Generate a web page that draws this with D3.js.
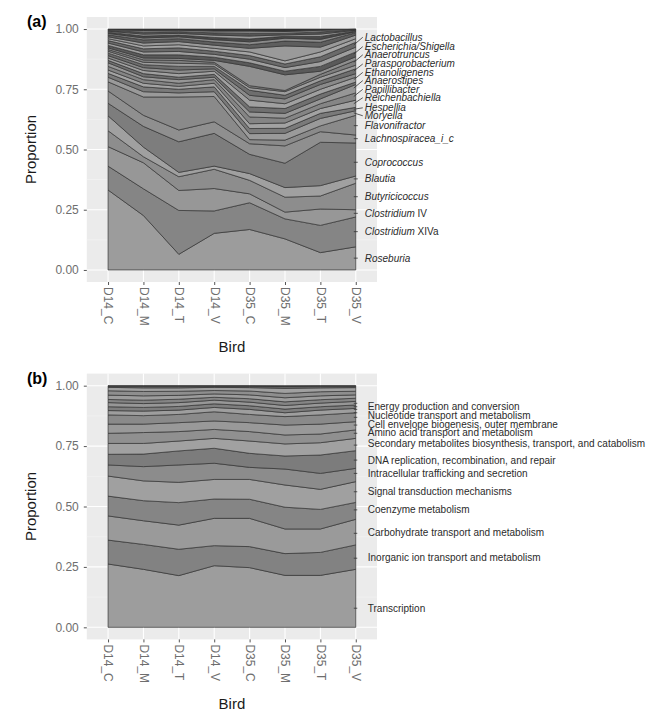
<!DOCTYPE html>
<html>
<head>
<meta charset="utf-8">
<script src="https://cdn.jsdelivr.net/npm/d3@7"></script>
<style>
  body { margin: 0; background: #fff; }
  text { font-family: "Liberation Sans", Arial, Helvetica, sans-serif; }
</style>
</head>
<body>
<script>
// ---- data ----
const birds = ['D14_C', 'D14_M', 'D14_T', 'D14_V', 'D35_C', 'D35_M', 'D35_T', 'D35_V']

// panel (a): genus proportions, bottom layer first
const generaA = ['Roseburia', 'Clostridium XIVa', 'Clostridium IV', 'Butyricicoccus', 'Blautia',
  'Coprococcus', 'Lachnospiracea_i_c', 'Flavonifractor', 'Moryella', 'Hespellia', 'Reichenbachiella',
  'Papillibacter', 'Anaerostipes', 'g14', 'Ethanoligenens', 'g16', 'Parasporobacterium', 'g18',
  'Anaerotruncus', 'g20', 'Escherichia/Shigella', 'g22', 'Lactobacillus', 'g24', 'g25', 'g26',
  'g27', 'g28', 'g29', 'g30', 'g31', 'g32']
const shareA = [
  [0.332, 0.226, 0.065, 0.152, 0.168, 0.129, 0.072, 0.096],
  [0.099, 0.111, 0.182, 0.093, 0.111, 0.083, 0.113, 0.124],
  [0.081, 0.108, 0.083, 0.093, 0.037, 0.028, 0.068, 0.030],
  [0.066, 0.025, 0.057, 0.080, 0.056, 0.062, 0.054, 0.110],
  [0.062, 0.040, 0.018, 0.013, 0.028, 0.040, 0.043, 0.030],
  [0.052, 0.086, 0.127, 0.136, 0.080, 0.101, 0.180, 0.137],
  [0.051, 0.046, 0.049, 0.048, 0.044, 0.072, 0.044, 0.033],
  [0.038, 0.076, 0.137, 0.105, 0.017, 0.024, 0.024, 0.082],
  [0.019, 0.022, 0.017, 0.020, 0.025, 0.028, 0.031, 0.019],
  [0.016, 0.020, 0.015, 0.020, 0.021, 0.021, 0.021, 0.014],
  [0.014, 0.015, 0.012, 0.015, 0.020, 0.022, 0.020, 0.030],
  [0.015, 0.015, 0.013, 0.015, 0.028, 0.020, 0.020, 0.030],
  [0.015, 0.012, 0.015, 0.010, 0.021, 0.020, 0.020, 0.035],
  [0.010, 0.013, 0.010, 0.012, 0.021, 0.020, 0.020, 0.010],
  [0.010, 0.013, 0.015, 0.013, 0.028, 0.020, 0.020, 0.020],
  [0.010, 0.012, 0.015, 0.010, 0.020, 0.020, 0.020, 0.015],
  [0.010, 0.012, 0.015, 0.010, 0.021, 0.015, 0.015, 0.020],
  [0.008, 0.010, 0.013, 0.010, 0.011, 0.015, 0.015, 0.015],
  [0.007, 0.010, 0.012, 0.007, 0.008, 0.005, 0.012, 0.020],
  [0.007, 0.008, 0.008, 0.008, 0.080, 0.065, 0.013, 0.015],
  [0.010, 0.013, 0.015, 0.013, 0.015, 0.015, 0.020, 0.020],
  [0.010, 0.012, 0.014, 0.012, 0.015, 0.015, 0.020, 0.020],
  [0.010, 0.013, 0.015, 0.013, 0.015, 0.015, 0.020, 0.020],
  [0.008, 0.012, 0.013, 0.012, 0.015, 0.013, 0.020, 0.015],
  [0.008, 0.012, 0.013, 0.013, 0.015, 0.062, 0.020, 0.015],
  [0.008, 0.013, 0.012, 0.013, 0.015, 0.020, 0.020, 0.010],
  [0.006, 0.008, 0.008, 0.010, 0.012, 0.012, 0.012, 0.004],
  [0.005, 0.008, 0.007, 0.009, 0.012, 0.008, 0.012, 0.003],
  [0.004, 0.008, 0.007, 0.010, 0.012, 0.006, 0.010, 0.003],
  [0.003, 0.008, 0.007, 0.009, 0.011, 0.006, 0.009, 0.002],
  [0.003, 0.007, 0.006, 0.008, 0.010, 0.008, 0.007, 0.002],
  [0.003, 0.006, 0.005, 0.008, 0.008, 0.010, 0.005, 0.001]
]
const labelsA = ['Lactobacillus', 'Escherichia/Shigella', 'Anaerotruncus', 'Parasporobacterium',
  'Ethanoligenens', 'Anaerostipes', 'Papillibacter', 'Reichenbachiella', 'Hespellia', 'Moryella',
  'Flavonifractor', 'Lachnospiracea_i_c', 'Coprococcus', 'Blautia', 'Butyricicoccus',
  'Clostridium IV', 'Clostridium XIVa', 'Roseburia']
const labelYA = [0.966, 0.927, 0.893, 0.855, 0.820, 0.786, 0.750, 0.715, 0.673, 0.640,
  0.599, 0.545, 0.447, 0.378, 0.304, 0.235, 0.159, 0.049]
const pointYA = [0.934, 0.896, 0.862, 0.826, 0.790, 0.755, 0.720, 0.690, 0.667, 0.652,
  0.599, 0.545, 0.447, 0.378, 0.304, 0.235, 0.159, 0.049]

// panel (b): COG function proportions, bottom layer first
const cogB = ['Transcription', 'Inorganic ion', 'Carbohydrate', 'Coenzyme', 'Signal', 'Intracellular',
  'DNA', 'Secondary', 'Amino acid', 'Cell envelope', 'Nucleotide', 'Energy',
  'c13', 'c14', 'c15', 'c16', 'c17', 'c18', 'c19', 'c20']
const shareB = [
  [0.262, 0.240, 0.214, 0.255, 0.247, 0.215, 0.215, 0.240],
  [0.099, 0.103, 0.109, 0.083, 0.087, 0.090, 0.095, 0.101],
  [0.100, 0.098, 0.100, 0.113, 0.117, 0.102, 0.097, 0.106],
  [0.082, 0.083, 0.093, 0.080, 0.079, 0.090, 0.081, 0.070],
  [0.083, 0.082, 0.084, 0.081, 0.082, 0.092, 0.083, 0.086],
  [0.046, 0.059, 0.072, 0.067, 0.050, 0.066, 0.066, 0.055],
  [0.044, 0.052, 0.058, 0.062, 0.058, 0.054, 0.076, 0.073],
  [0.045, 0.044, 0.041, 0.041, 0.051, 0.050, 0.051, 0.051],
  [0.042, 0.045, 0.039, 0.037, 0.039, 0.037, 0.036, 0.035],
  [0.038, 0.035, 0.037, 0.035, 0.037, 0.041, 0.041, 0.034],
  [0.038, 0.035, 0.034, 0.038, 0.034, 0.035, 0.038, 0.037],
  [0.018, 0.019, 0.018, 0.018, 0.021, 0.016, 0.020, 0.018],
  [0.016, 0.015, 0.015, 0.015, 0.015, 0.015, 0.014, 0.014],
  [0.017, 0.016, 0.016, 0.015, 0.015, 0.015, 0.015, 0.015],
  [0.013, 0.014, 0.014, 0.012, 0.014, 0.015, 0.014, 0.013],
  [0.018, 0.018, 0.016, 0.014, 0.016, 0.017, 0.016, 0.014],
  [0.018, 0.018, 0.017, 0.014, 0.016, 0.018, 0.017, 0.015],
  [0.014, 0.015, 0.014, 0.013, 0.014, 0.021, 0.016, 0.015],
  [0.005, 0.007, 0.007, 0.005, 0.006, 0.008, 0.007, 0.006],
  [0.002, 0.002, 0.002, 0.002, 0.002, 0.003, 0.002, 0.002]
]
const labelsB = ['Energy production and conversion', 'Nucleotide transport and metabolism',
  'Cell envelope biogenesis, outer membrane', 'Amino acid transport and metabolism',
  'Secondary metabolites biosynthesis, transport, and catabolism',
  'DNA replication, recombination, and repair', 'Intracellular trafficking and secretion',
  'Signal transduction mechanisms', 'Coenzyme metabolism', 'Carbohydrate transport and metabolism',
  'Inorganic ion transport and metabolism', 'Transcription']
const labelYB = [0.912, 0.877, 0.839, 0.805, 0.759, 0.692, 0.637, 0.564, 0.488, 0.392, 0.290, 0.079]
const tickYB = [0.927, 0.913, 0.902, 0.888, 0.869, 0.837, 0.803, 0.754, 0.692, 0.637, 0.561,
  0.486, 0.389, 0.286, 0.079]

const yTicks = [0, 0.25, 0.5, 0.75, 1]

// ---- styles ----
const greysA = ['#9c9c9c', '#858585', '#979797', '#8d8d8d', '#a0a0a0', '#7d7d7d', '#8f8f8f', '#8a8a8a',
  '#9a9a9a', '#7a7a7a', '#a2a2a2', '#858585', '#969696', '#707070', '#a0a0a0', '#8a8a8a',
  '#6e6e6e', '#9c9c9c', '#808080', '#8f8f8f', '#5a5a5a', '#9e9e9e', '#6a6a6a', '#a4a4a4',
  '#9a9a9a', '#5e5e5e', '#8a8a8a', '#4a4a4a', '#9a9a9a', '#555555', '#888888', '#333333']
const greysB = ['#9d9d9d', '#828282', '#9a9a9a', '#858585', '#a0a0a0', '#8c8c8c', '#7c7c7c', '#a1a1a1',
  '#909090', '#999999', '#8a8a8a', '#9e9e9e', '#7e7e7e', '#979797', '#858585', '#9c9c9c',
  '#8e8e8e', '#a0a0a0', '#666666', '#222222']

const w = 667
const h = 717
const left = 86.8
const right = 377

const svg = d3.select('body')
  .append('svg')
  .attr('width', w)
  .attr('height', h)

function drawPanel(o) {
  const g = svg.append('g')

  const x = d3.scalePoint()
    .domain(birds)
    .range([left, right])
    .padding(0.6)

  const y = d3.scaleLinear()
    .domain([-0.05, 1.05])
    .range([o.bottom, o.top])

  g.append('rect')
    .attr('x', left)
    .attr('y', o.top)
    .attr('width', right - left)
    .attr('height', o.bottom - o.top)
    .attr('fill', '#ebebeb')

  const minor = [0.125, 0.375, 0.625, 0.875]
  g.selectAll('.minor').data(minor).enter().append('line')
    .attr('x1', left).attr('x2', right)
    .attr('y1', d => y(d)).attr('y2', d => y(d))
    .attr('stroke', '#f5f5f5').attr('stroke-width', 0.6)
  g.selectAll('.major').data(yTicks).enter().append('line')
    .attr('x1', left).attr('x2', right)
    .attr('y1', d => y(d)).attr('y2', d => y(d))
    .attr('stroke', '#fff').attr('stroke-width', 1.1)
  g.selectAll('.vgrid').data(birds).enter().append('line')
    .attr('x1', d => x(d)).attr('x2', d => x(d))
    .attr('y1', o.top).attr('y2', o.bottom)
    .attr('stroke', '#fff').attr('stroke-width', 1.1)

  const rows = birds.map((b, i) => {
    const r = {bird: b}
    o.keys.forEach((k, j) => { r[k] = o.values[j][i] })
    return r
  })
  const series = d3.stack().keys(o.keys)(rows)

  const area = d3.area()
    .x(d => x(d.data.bird))
    .y0(d => y(d[0]))
    .y1(d => y(d[1]))

  g.selectAll('.layer').data(series).enter().append('path')
    .attr('d', area)
    .attr('fill', (d, i) => o.fills[i])
    .attr('stroke', '#333')
    .attr('stroke-width', 0.7)
    .attr('stroke-linejoin', 'round')

  const yAxis = d3.axisLeft(y)
    .tickValues(yTicks)
    .tickFormat(d3.format('.2f'))
    .tickSize(3)
    .tickPadding(5)
  const ya = g.append('g')
    .attr('transform', 'translate(' + left + ',0)')
    .call(yAxis)
  ya.select('.domain').remove()
  ya.selectAll('line').attr('stroke', '#555')
  ya.selectAll('text').attr('fill', '#6e6e6e').style('font-size', '12px')

  const xAxis = d3.axisBottom(x).tickSize(3)
  const xa = g.append('g')
    .attr('transform', 'translate(0,' + o.bottom + ')')
    .call(xAxis)
  xa.select('.domain').remove()
  xa.selectAll('line').attr('stroke', '#555')
  xa.selectAll('text')
    .attr('transform', 'rotate(90)')
    .attr('x', 5)
    .attr('y', 0)
    .attr('dy', '0.35em')
    .attr('text-anchor', 'start')
    .attr('fill', '#6e6e6e')
    .style('font-size', '12px')

  g.append('text')
    .attr('transform', 'translate(36,' + y(0.5) + ') rotate(-90)')
    .attr('text-anchor', 'middle')
    .style('font-size', '15px')
    .attr('fill', '#1a1a1a')
    .text('Proportion')

  g.append('text')
    .attr('x', (left + right) / 2)
    .attr('y', o.bottom + 70)
    .attr('text-anchor', 'middle')
    .style('font-size', '15px')
    .attr('fill', '#1a1a1a')
    .text('Bird')

  g.append('text')
    .attr('x', 27)
    .attr('y', o.top + 10)
    .style('font-size', '16px')
    .style('font-weight', 'bold')
    .text(o.tag)

  const lx = x(birds[birds.length - 1])

  // leader segments (label position vs. layer point)
  g.selectAll('.seg').data(o.points).enter().append('line')
    .attr('x1', lx - 2)
    .attr('x2', (d, i) => d === o.labelY[i] ? lx + 2 : lx + 7)
    .attr('y1', d => y(d))
    .attr('y2', (d, i) => y(o.labelY[i]))
    .attr('stroke', '#333')
    .attr('stroke-width', 0.8)

  // short tick dashes
  g.selectAll('.dash').data(o.dashes).enter().append('line')
    .attr('x1', lx - 2).attr('x2', lx + 1.5)
    .attr('y1', d => y(d)).attr('y2', d => y(d))
    .attr('stroke', '#333').attr('stroke-width', 0.8)

  g.selectAll('.lab').data(o.labels).enter().append('text')
    .attr('x', lx + o.textGap)
    .attr('y', (d, i) => y(o.labelY[i]))
    .attr('dy', '0.35em')
    .style('font-size', o.fontSize)
    .style('font-style', o.italic ? 'italic' : 'normal')
    .attr('fill', '#2b2b2b')
    .each(function (d) {
      const t = d3.select(this)
      const m = o.italic ? d.match(/^(Clostridium) (.+)$/) : null
      if (m) {
        t.append('tspan').text(m[1])
        t.append('tspan').style('font-style', 'normal').text(' ' + m[2])
      } else {
        t.text(d)
      }
    })
}

drawPanel({
  top: 17, bottom: 282, tag: '(a)',
  keys: generaA, values: shareA, fills: greysA,
  labels: labelsA, labelY: labelYA, points: pointYA, dashes: [],
  italic: true, fontSize: '10px', textGap: 9
})

drawPanel({
  top: 373.6, bottom: 639.4, tag: '(b)',
  keys: cogB, values: shareB, fills: greysB,
  labels: labelsB, labelY: labelYB, points: [], dashes: tickYB,
  italic: false, fontSize: '10px', textGap: 12
})
</script>
</body>
</html>
